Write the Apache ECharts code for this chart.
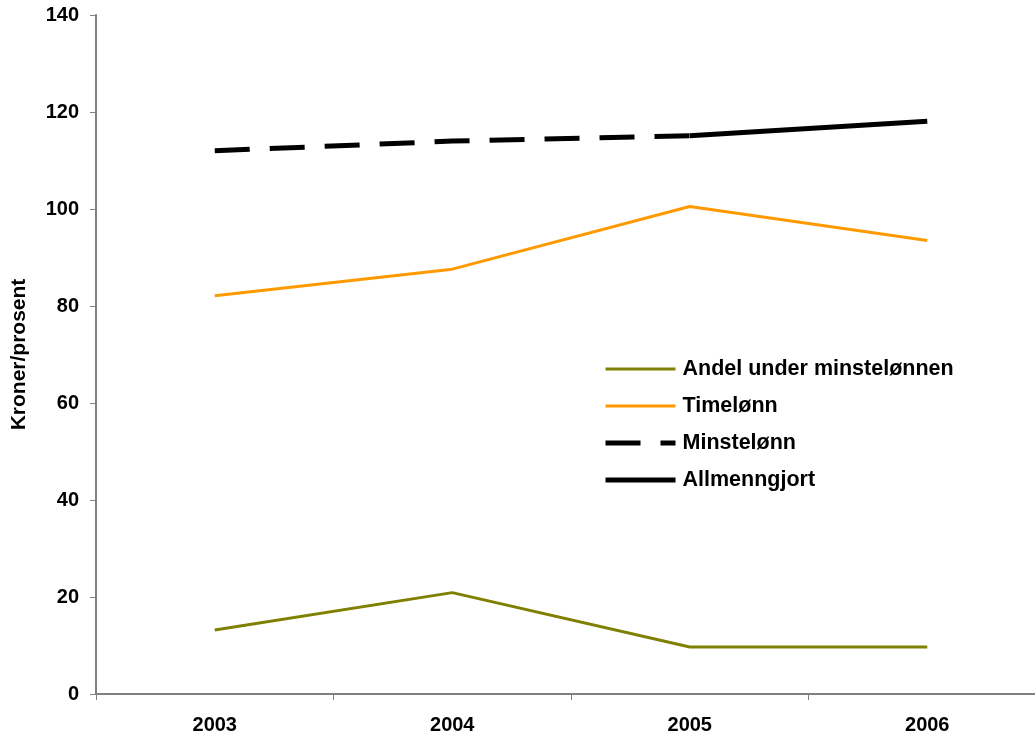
<!DOCTYPE html>
<html>
<head>
<meta charset="utf-8">
<script src="https://cdn.jsdelivr.net/npm/echarts@6/dist/echarts.min.js"></script>
<style>
html,body{margin:0;padding:0;background:#fff;}
#chart{width:1035px;height:738px;}
</style>
</head>
<body>
<div id="chart"></div>
<script>
const categories = ['2003', '2004', '2005', '2006'];
const andelUnder = [13.2, 20.9, 9.7, 9.7];
const timelonn = [82.1, 87.6, 100.5, 93.5];
const minstelonn = [112.0, 114.0, 115.1, null];
const allmenngjort = [null, null, 115.1, 118.1];
const yTicks = { min: 0, max: 140, interval: 20 };

const font = 'Liberation Sans, Arial, sans-serif';
const chart = echarts.init(document.getElementById('chart'));
chart.setOption({
  animation: false,
  backgroundColor: '#fff',
  grid: { left: 96, width: 950, top: 15, bottom: 44, containLabel: false, outerBoundsMode: 'none' },
  legend: {
    orient: 'vertical',
    left: 603,
    top: 358,
    padding: 0,
    itemWidth: 70,
    itemHeight: 20,
    itemGap: 15,
    itemStyle: { opacity: 0 },
    textStyle: { fontFamily: font, fontWeight: 'bold', fontSize: 21.5, color: '#000', padding: [0, 0, 0, 2] },
    data: [
      { name: 'Andel under minstelønnen', lineStyle: { width: 3 } },
      { name: 'Timelønn', lineStyle: { width: 3 } },
      { name: 'Minstelønn', lineStyle: { width: 5 } },
      { name: 'Allmenngjort', lineStyle: { width: 5 } }
    ]
  },
  xAxis: {
    type: 'category',
    data: categories,
    boundaryGap: true,
    axisLine: { lineStyle: { color: '#808080', width: 2 } },
    axisTick: { show: true, length: 6, lineStyle: { color: '#808080', width: 1 } },
    axisLabel: { fontFamily: font, fontWeight: 'bold', fontSize: 20, color: '#000', margin: 21 },
    splitLine: { show: false }
  },
  yAxis: {
    type: 'value',
    min: yTicks.min,
    max: yTicks.max,
    interval: yTicks.interval,
    name: 'Kroner/prosent',
    nameLocation: 'middle',
    nameGap: 66,
    nameTextStyle: { fontFamily: font, fontWeight: 'bold', fontSize: 21, color: '#000' },
    axisLine: { show: true, lineStyle: { color: '#808080', width: 2 } },
    axisTick: { show: true, length: 6, lineStyle: { color: '#808080', width: 1 } },
    axisLabel: { fontFamily: font, fontWeight: 'bold', fontSize: 20, color: '#000', margin: 17 },
    splitLine: { show: false }
  },
  series: [
    {
      name: 'Andel under minstelønnen', type: 'line', data: andelUnder,
      symbol: 'none', lineStyle: { color: '#808000', width: 3 }, itemStyle: { color: '#808000' }
    },
    {
      name: 'Timelønn', type: 'line', data: timelonn,
      symbol: 'none', lineStyle: { color: '#FF9900', width: 3 }, itemStyle: { color: '#FF9900' }
    },
    {
      name: 'Minstelønn', type: 'line', data: minstelonn,
      symbol: 'none', lineStyle: { color: '#000', width: 5, type: [35, 20] }, itemStyle: { color: '#000' }
    },
    {
      name: 'Allmenngjort', type: 'line', data: allmenngjort,
      symbol: 'none', lineStyle: { color: '#000', width: 5 }, itemStyle: { color: '#000' }
    }
  ]
});
</script>
</body>
</html>
